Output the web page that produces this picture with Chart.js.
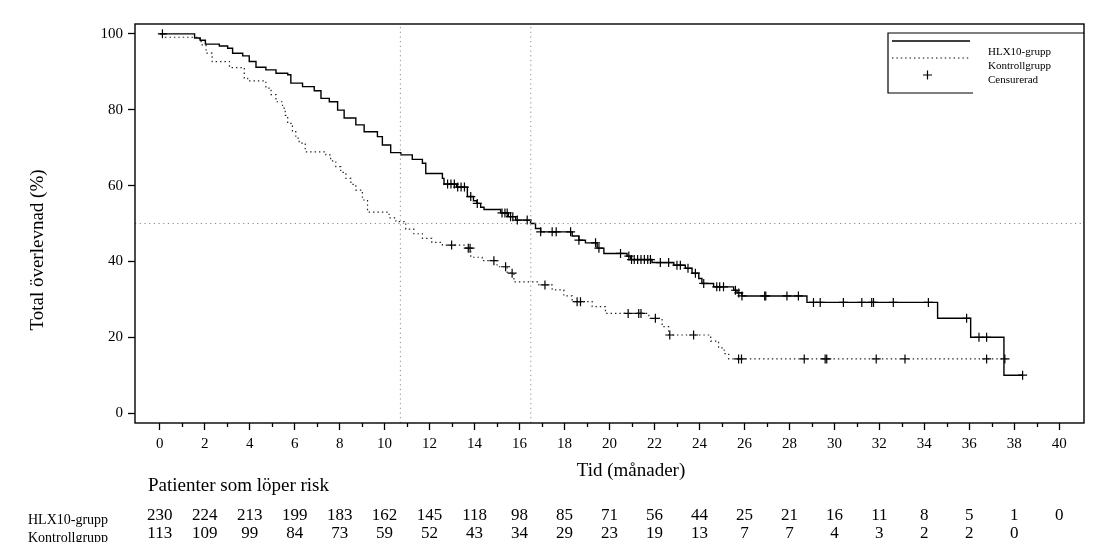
<!DOCTYPE html>
<html>
<head>
<meta charset="utf-8">
<script src="https://cdn.jsdelivr.net/npm/chart.js@4.4.1/dist/chart.umd.min.js"></script>
<style>
html, body { margin: 0; padding: 0; background: #fff; }
#wrap { width: 1111px; height: 558px; }
</style>
</head>
<body>
<div id="wrap"><canvas id="km" width="1111" height="558"></canvas></div>
<script>
// HLX10-grupp: tid (månader) och total överlevnad (%) efter varje händelse
const hlxTid = [0, 1.55, 1.8, 2.03, 2.65, 3.02, 3.24, 3.69, 3.98, 4.28, 4.72, 5.17, 5.69, 5.83, 6.35, 6.87, 7.17, 7.54, 7.91, 8.2, 8.72, 9.09, 9.68, 9.9, 10.27, 10.72, 11.23, 11.68, 11.83, 12.57, 12.64, 13.2, 13.68, 13.95, 14.1, 14.27, 14.42, 15.16, 15.5, 15.83, 16.49, 16.71, 16.94, 18.34, 18.64, 18.93, 19.45, 19.75, 20.78, 20.93, 21.89, 22.86, 23.37, 23.67, 23.97, 24.11, 24.63, 25.52, 25.67, 25.89, 28.78, 34.59, 36.06, 37.54, 38.37];
const hlxOverlevnad = [100, 98.9, 98.3, 97.3, 96.8, 96.2, 94.9, 94.2, 92.7, 91.2, 90.5, 89.6, 89.2, 87.0, 86.1, 85.0, 83.0, 82.1, 79.9, 77.8, 76.0, 74.2, 72.9, 70.7, 68.7, 68.1, 66.9, 65.9, 63.2, 61.9, 60.4, 59.6, 57.1, 56.0, 55.3, 54.3, 53.7, 52.8, 51.8, 50.9, 50.0, 48.7, 47.8, 46.7, 45.6, 44.9, 43.5, 42.1, 41.4, 40.5, 39.7, 39.0, 38.2, 36.9, 35.5, 34.2, 33.3, 32.4, 31.7, 30.9, 29.2, 25.0, 20.0, 10.0, 10.0];

// Kontrollgrupp
const kontrollTid = [0, 0.25, 1.77, 1.84, 2.06, 2.33, 3.1, 3.76, 3.91, 4.72, 4.95, 5.17, 5.46, 5.58, 5.69, 5.9, 6.05, 6.2, 6.47, 7.39, 7.6, 7.83, 8.05, 8.28, 8.5, 8.72, 9.01, 9.24, 10.2, 10.5, 10.94, 11.3, 11.68, 12.1, 12.57, 13.6, 13.83, 14.34, 15.0, 15.45, 15.75, 16.86, 17.45, 17.97, 18.34, 19.23, 19.82, 21.75, 22.34, 22.63, 24.5, 24.85, 25.1, 25.3, 37.8];
const kontrollOverlevnad = [100, 99.1, 98.2, 97.1, 94.9, 92.7, 91.1, 88.3, 87.6, 85.7, 84.0, 82.1, 80.4, 78.5, 76.4, 74.2, 72.5, 71.2, 68.9, 68.1, 66.5, 65.0, 63.5, 61.9, 60.3, 58.8, 56.2, 53.0, 51.5, 50.5, 48.5, 47.3, 46.1, 45.0, 44.3, 43.5, 41.1, 40.2, 38.6, 36.9, 34.6, 33.8, 32.5, 30.9, 29.4, 28.1, 26.3, 25.0, 22.8, 20.6, 19.0, 17.2, 15.7, 14.3, 14.3];

// Censurerade observationer
const hlxCensTid = [0.12, 12.8, 12.95, 13.1, 13.25, 13.4, 13.55, 13.83, 14.12, 15.22, 15.35, 15.45, 15.6, 15.7, 15.9, 16.34, 16.94, 17.45, 17.63, 18.27, 18.64, 19.38, 19.53, 20.49, 20.86, 20.98, 21.1, 21.25, 21.4, 21.55, 21.7, 21.82, 22.26, 22.63, 23.0, 23.15, 23.49, 23.82, 24.19, 24.77, 24.9, 25.07, 25.6, 25.75, 25.89, 26.9, 26.95, 27.89, 28.4, 29.07, 29.37, 30.4, 31.22, 31.66, 31.74, 32.62, 34.18, 35.88, 36.43, 36.77, 38.37];
const hlxCensVarde = [100, 60.4, 60.4, 60.4, 59.6, 59.6, 59.6, 57.1, 55.3, 52.8, 52.8, 52.8, 51.8, 51.8, 50.9, 50.9, 47.8, 47.8, 47.8, 47.8, 45.6, 44.9, 43.5, 42.1, 41.4, 40.5, 40.5, 40.5, 40.5, 40.5, 40.5, 40.5, 39.7, 39.7, 39.0, 39.0, 38.2, 36.9, 34.2, 33.3, 33.3, 33.3, 32.4, 31.7, 30.9, 30.9, 30.9, 30.9, 30.9, 29.2, 29.2, 29.2, 29.2, 29.2, 29.2, 29.2, 29.2, 25.0, 20.0, 20.0, 10.0];
const kontrollCensTid = [12.98, 13.72, 13.8, 14.86, 15.38, 15.67, 17.13, 18.56, 18.71, 20.83, 21.3, 21.4, 22.04, 22.68, 23.74, 25.74, 25.87, 28.66, 29.59, 29.66, 31.86, 33.14, 36.77, 37.58];
const kontrollCensVarde = [44.3, 43.5, 43.5, 40.2, 38.6, 36.9, 33.8, 29.4, 29.4, 26.3, 26.3, 26.3, 25.0, 20.6, 20.6, 14.3, 14.3, 14.3, 14.3, 14.3, 14.3, 14.3, 14.3, 14.3];

// Medianlinjer
const medianTider = [10.7, 16.5];
const medianNiva = 50;

// Axlar
const xTicks = [0, 2, 4, 6, 8, 10, 12, 14, 16, 18, 20, 22, 24, 26, 28, 30, 32, 34, 36, 38, 40];
const yTicks = [0, 20, 40, 60, 80, 100];
const xMin = -1.1, xMax = 41.1, yMin = -2.6, yMax = 102.6;

// Patienter som löper risk
const riskHlx = [230, 224, 213, 199, 183, 162, 145, 118, 98, 85, 71, 56, 44, 25, 21, 16, 11, 8, 5, 1, 0];
const riskKontroll = [113, 109, 99, 84, 73, 59, 52, 43, 34, 29, 23, 19, 13, 7, 7, 4, 3, 2, 2, 0];

const serif = '"Liberation Serif", "Times New Roman", serif';
Chart.defaults.font.family = serif;
Chart.defaults.color = '#000';

function punkter(xs, ys) {
    return xs.map((x, i) => ({ x: x, y: ys[i] }));
}

const datasets = [
    {
        data: punkter([xMin, xMax], [medianNiva, medianNiva]),
        borderColor: '#8a8a8a', borderWidth: 1, borderDash: [1.2, 3.5], pointRadius: 0
    }
];
medianTider.forEach(t => {
    datasets.push({
        data: punkter([t, t], [yMin, yMax]),
        borderColor: '#8a8a8a', borderWidth: 1, borderDash: [1.2, 3.5], pointRadius: 0
    });
});
datasets.push(
    {
        label: 'HLX10-grupp',
        data: punkter(hlxTid, hlxOverlevnad),
        stepped: 'before', borderColor: '#000', borderWidth: 1.4, pointRadius: 0
    },
    {
        label: 'Kontrollgrupp',
        data: punkter(kontrollTid, kontrollOverlevnad),
        stepped: 'before', borderColor: '#222', borderWidth: 1.2, borderDash: [1.4, 3], pointRadius: 0
    },
    {
        label: 'Censurerad',
        data: punkter(hlxCensTid, hlxCensVarde),
        showLine: false, pointStyle: 'cross', pointRadius: 4.5,
        pointBorderColor: '#000', pointBorderWidth: 1.2
    },
    {
        label: 'Censurerad',
        data: punkter(kontrollCensTid, kontrollCensVarde),
        showLine: false, pointStyle: 'cross', pointRadius: 4.5,
        pointBorderColor: '#000', pointBorderWidth: 1.2
    }
);

// ram, små streck, förklaring, axeltitlar och risktabell
const extraRitning = {
    id: 'extraRitning',
    afterDraw(chart) {
        const ctx = chart.ctx;
        const a = chart.chartArea;
        const xs = chart.scales.x;
        ctx.save();
        ctx.strokeStyle = '#000';
        ctx.lineWidth = 1.4;
        ctx.strokeRect(a.left, a.top, a.right - a.left, a.bottom - a.top);

        // mindre streck på x-axeln
        ctx.lineWidth = 1.3;
        for (let m = 1; m < 40; m += 2) {
            const px = Math.round(xs.getPixelForValue(m)) + 0.5;
            ctx.beginPath();
            ctx.moveTo(px, a.bottom);
            ctx.lineTo(px, a.bottom + 4);
            ctx.stroke();
        }

        // förklaring
        const L = a.right - 196, T = a.top + 9, B = a.top + 69;
        ctx.lineWidth = 1.2;
        ctx.beginPath();
        ctx.moveTo(a.right, T);
        ctx.lineTo(L, T);
        ctx.lineTo(L, B);
        ctx.lineTo(L + 85, B);
        ctx.stroke();
        ctx.lineWidth = 1.4;
        ctx.beginPath();
        ctx.moveTo(L + 4, T + 8);
        ctx.lineTo(L + 82, T + 8);
        ctx.stroke();
        ctx.lineWidth = 1.1;
        ctx.setLineDash([1.4, 3]);
        ctx.beginPath();
        ctx.moveTo(L + 4, T + 25);
        ctx.lineTo(L + 82, T + 25);
        ctx.stroke();
        ctx.setLineDash([]);
        ctx.lineWidth = 1.2;
        ctx.beginPath();
        ctx.moveTo(L + 39.5, T + 37.5);
        ctx.lineTo(L + 39.5, T + 46.5);
        ctx.moveTo(L + 35, T + 42);
        ctx.lineTo(L + 44, T + 42);
        ctx.stroke();
        ctx.fillStyle = '#000';
        ctx.font = '11px ' + serif;
        ctx.textAlign = 'left';
        ctx.textBaseline = 'middle';
        ctx.fillText('HLX10-grupp', L + 100, T + 19);
        ctx.fillText('Kontrollgrupp', L + 100, T + 33);
        ctx.fillText('Censurerad', L + 100, T + 47);

        // axeltitlar
        ctx.font = '19px ' + serif;
        ctx.textAlign = 'center';
        ctx.fillText('Tid (månader)', 631, 471);
        ctx.save();
        ctx.translate(38, 250);
        ctx.rotate(-Math.PI / 2);
        ctx.fillText('Total överlevnad (%)', 0, 0);
        ctx.restore();

        // risktabell
        ctx.textAlign = 'left';
        ctx.fillText('Patienter som löper risk', 148, 486);
        ctx.beginPath();
        ctx.rect(0, 0, chart.width, 542);
        ctx.clip();
        ctx.font = '14px ' + serif;
        ctx.fillText('HLX10-grupp', 28, 520);
        ctx.fillText('Kontrollgrupp', 28, 538);
        ctx.font = '17px ' + serif;
        ctx.textAlign = 'center';
        riskHlx.forEach((n, i) => ctx.fillText(String(n), xs.getPixelForValue(xTicks[i]), 516));
        riskKontroll.forEach((n, i) => ctx.fillText(String(n), xs.getPixelForValue(xTicks[i]), 534));
        ctx.restore();
    }
};

new Chart(document.getElementById('km').getContext('2d'), {
    type: 'line',
    data: { datasets: datasets },
    options: {
        responsive: false,
        animation: false,
        layout: { padding: { left: 0, top: 24, right: 27, bottom: 0 } },
        plugins: { legend: { display: false }, tooltip: { enabled: false } },
        scales: {
            x: {
                type: 'linear', min: xMin, max: xMax,
                afterBuildTicks: s => { s.ticks = xTicks.map(v => ({ value: v })); },
                afterFit: s => { s.height = 135; },
                ticks: { font: { size: 15 }, color: '#000', padding: 5, maxRotation: 0, autoSkip: false },
                grid: { drawOnChartArea: false, drawTicks: true, tickLength: 7, tickColor: '#000', tickWidth: 1.3 },
                border: { display: false }
            },
            y: {
                type: 'linear', min: yMin, max: yMax,
                afterBuildTicks: s => { s.ticks = yTicks.map(v => ({ value: v })); },
                afterFit: s => { s.width = 135; },
                ticks: { font: { size: 15 }, color: '#000', padding: 5 },
                grid: { drawOnChartArea: false, drawTicks: true, tickLength: 7, tickColor: '#000', tickWidth: 1.3 },
                border: { display: false }
            }
        }
    },
    plugins: [extraRitning]
});
</script>
</body>
</html>
